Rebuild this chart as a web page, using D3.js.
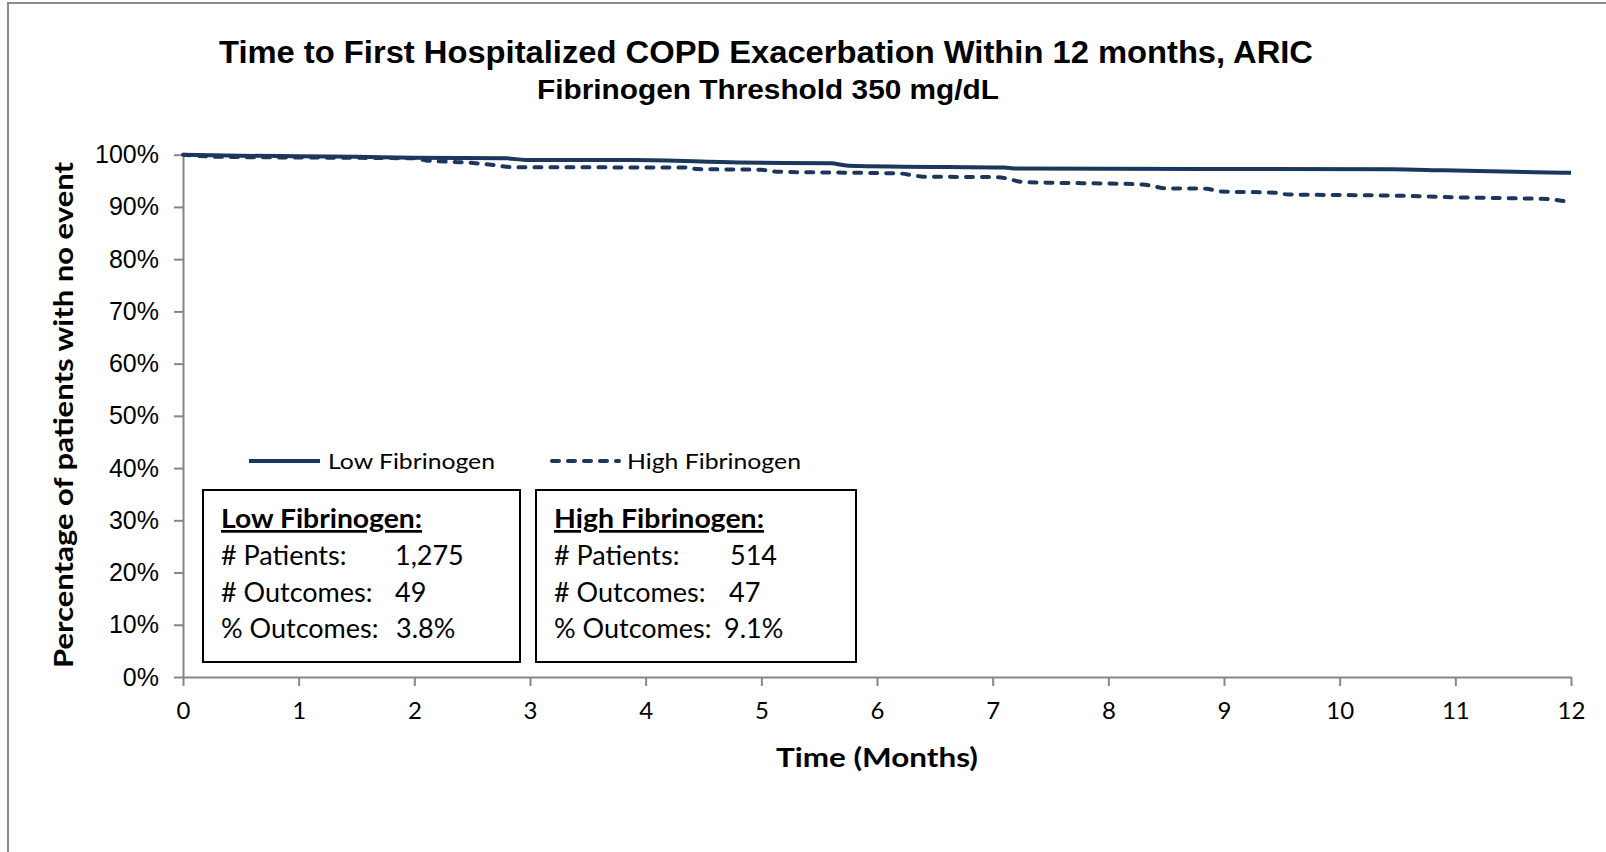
<!DOCTYPE html>
<html>
<head>
<meta charset="utf-8">
<script src="https://cdn.jsdelivr.net/npm/d3@7"></script>
<style>
  body { margin: 0; background: #fff; overflow: hidden; }
  svg { display: block; }
  .title { font-family: 'Liberation Sans', Arial, sans-serif; font-weight: bold; fill: #000; }
  .axis path, .axis line { stroke: #868686; stroke-width: 2; }
  .y.axis text { font-family: 'Liberation Sans', Arial, sans-serif; font-size: 25px; fill: #000; }
  .x.axis text { font-family: Lato, 'Open Sans', sans-serif; font-size: 24px; fill: #000; }
  .label { font-family: Lato, 'Open Sans', sans-serif; font-weight: bold; font-size: 27px; fill: #000; }
  .legend-text { font-family: Lato, 'Open Sans', sans-serif; font-size: 21px; fill: #000; }
  .box-text { font-family: Lato, 'Open Sans', sans-serif; font-size: 27px; fill: #000; }
</style>
</head>
<body>
<svg width="1606" height="852"></svg>
<script>
// **** data ****

var months = [0, 1, 2, 3, 4, 5, 6, 7, 8, 9, 10, 11, 12];
var pctTicks = [0, 10, 20, 30, 40, 50, 60, 70, 80, 90, 100];

// Low fibrinogen (solid)
var lowTime = [0, 0.5, 1.0, 1.5, 2.0, 2.8, 2.96, 3.9, 4.8, 5.6, 5.75, 6.8, 7.1, 7.2, 10.45, 10.9, 11.8, 12];
var lowSurv = [100, 99.8, 99.7, 99.6, 99.4, 99.3, 99.0, 99.0, 98.5, 98.35, 97.9, 97.6, 97.55, 97.35, 97.2, 97.0, 96.6, 96.55];

// High fibrinogen (dashed)
var highTime = [0, 0.3, 1.5, 2.0, 2.1, 2.45, 2.7, 2.85, 4.35, 4.45, 5.0, 5.13, 6.2, 6.3, 6.4, 7.05, 7.15, 7.25, 8.3, 8.4, 8.5, 8.85, 8.95, 9.45, 9.55, 10.5, 11.0, 11.5, 11.8, 11.95, 12];
var highSurv = [100, 99.6, 99.4, 99.3, 98.9, 98.5, 98.0, 97.6, 97.55, 97.25, 97.1, 96.75, 96.4, 96.1, 95.8, 95.7, 95.3, 94.8, 94.3, 93.9, 93.55, 93.5, 93.0, 92.7, 92.4, 92.15, 91.85, 91.65, 91.5, 91.1, 91.0];

var groups = ['Low Fibrinogen', 'High Fibrinogen'];
var patients = ['1,275', '514'];
var outcomes = ['49', '47'];
var pctOutcomes = ['3.8%', '9.1%'];

var lineColor = '#1c375d';

// **** scales and axes ****

var svg = d3.select('svg');

// outer frame (only left and top edges are in view)
svg.append('rect')
    .attr('x', 8).attr('y', 3)
    .attr('width', 1700).attr('height', 900)
    .style('fill', 'none')
    .style('stroke', '#8c8c8c')
    .style('stroke-width', 2);

var xScale = d3.scaleLinear().domain([0, 12]).range([183, 1571]);
var yScale = d3.scaleLinear().domain([0, 100]).range([677, 154.7]);

svg.append('g').attr('class', 'x axis')
    .attr('transform', 'translate(0,677)')
    .call(d3.axisBottom(xScale).tickValues(months).tickSize(9).tickPadding(16).tickSizeOuter(0));

svg.append('g').attr('class', 'y axis')
    .attr('transform', 'translate(183,0)')
    .call(d3.axisLeft(yScale).tickValues(pctTicks).tickSize(9).tickPadding(15).tickSizeOuter(0)
        .tickFormat(function (d) { return d + '%'; }));

svg.append('text')
    .attr('class', 'title')
    .attr('x', 766).attr('y', 63)
    .attr('text-anchor', 'middle')
    .style('font-size', '31px')
    .attr('textLength', 1094)
    .attr('lengthAdjust', 'spacingAndGlyphs')
    .text('Time to First Hospitalized COPD Exacerbation Within  12 months, ARIC');

svg.append('text')
    .attr('class', 'title')
    .attr('x', 768).attr('y', 99)
    .attr('text-anchor', 'middle')
    .style('font-size', '27px')
    .attr('textLength', 462)
    .attr('lengthAdjust', 'spacingAndGlyphs')
    .text('Fibrinogen Threshold 350 mg/dL');

svg.append('text')
    .attr('class', 'label')
    .attr('transform', 'translate(73,415) rotate(-90)')
    .attr('text-anchor', 'middle')
    .attr('textLength', 506)
    .attr('lengthAdjust', 'spacingAndGlyphs')
    .text('Percentage of patients with no event');

svg.append('text')
    .attr('class', 'label')
    .attr('x', 877).attr('y', 767)
    .attr('text-anchor', 'middle')
    .attr('textLength', 202)
    .attr('lengthAdjust', 'spacingAndGlyphs')
    .text('Time (Months)');

// **** survival lines ****

var line = d3.line()
    .x(function (d) { return xScale(d[0]); })
    .y(function (d) { return yScale(d[1]); })
    .curve(d3.curveMonotoneX);

var lowData = lowTime.map(function (t, i) { return [t, lowSurv[i]]; });
var highData = highTime.map(function (t, i) { return [t, highSurv[i]]; });

svg.append('path')
    .datum(highData)
    .attr('d', line)
    .style('fill', 'none')
    .style('stroke', lineColor)
    .style('stroke-width', 4)
    .style('stroke-linecap', 'round')
    .style('stroke-dasharray', '7,9');

svg.append('path')
    .datum(lowData)
    .attr('d', line)
    .style('fill', 'none')
    .style('stroke', lineColor)
    .style('stroke-width', 4);

// **** legend ****

svg.append('line')
    .attr('x1', 249).attr('x2', 320).attr('y1', 461).attr('y2', 461)
    .style('stroke', lineColor).style('stroke-width', 4);

svg.append('text')
    .attr('class', 'legend-text')
    .attr('x', 328).attr('y', 469)
    .attr('textLength', 167)
    .attr('lengthAdjust', 'spacingAndGlyphs')
    .text(groups[0]);

svg.append('line')
    .attr('x1', 552).attr('x2', 619).attr('y1', 461).attr('y2', 461)
    .style('stroke', lineColor).style('stroke-width', 4)
    .style('stroke-linecap', 'round')
    .style('stroke-dasharray', '7,9');

svg.append('text')
    .attr('class', 'legend-text')
    .attr('x', 627).attr('y', 469)
    .attr('textLength', 174)
    .attr('lengthAdjust', 'spacingAndGlyphs')
    .text(groups[1]);

// **** summary boxes ****

var boxX = [203, 536];
var boxW = [317, 320];
var headW = [201, 210];
var valueX = [[395, 395, 396], [730, 729, 724]];

groups.forEach(function (g, i) {
    var box = svg.append('g');
    box.append('rect')
        .attr('x', boxX[i]).attr('y', 490)
        .attr('width', boxW[i]).attr('height', 172)
        .style('fill', '#fff')
        .style('stroke', '#000')
        .style('stroke-width', 2);

    var tx = boxX[i] + 18;
    box.append('text')
        .attr('class', 'box-text')
        .attr('x', tx).attr('y', 528)
        .style('font-weight', 'bold')
        .style('text-decoration', 'underline')
        .attr('textLength', headW[i])
        .attr('lengthAdjust', 'spacingAndGlyphs')
        .text(g + ':');

    var rows = [
        ['# Patients:', patients[i]],
        ['# Outcomes:', outcomes[i]],
        ['% Outcomes:', pctOutcomes[i]]
    ];
    rows.forEach(function (r, j) {
        box.append('text')
            .attr('class', 'box-text')
            .attr('x', tx).attr('y', 565 + j * 36.5)
            .text(r[0]);
        box.append('text')
            .attr('class', 'box-text')
            .attr('x', valueX[i][j]).attr('y', 565 + j * 36.5)
            .text(r[1]);
    });
});
</script>
</body>
</html>
